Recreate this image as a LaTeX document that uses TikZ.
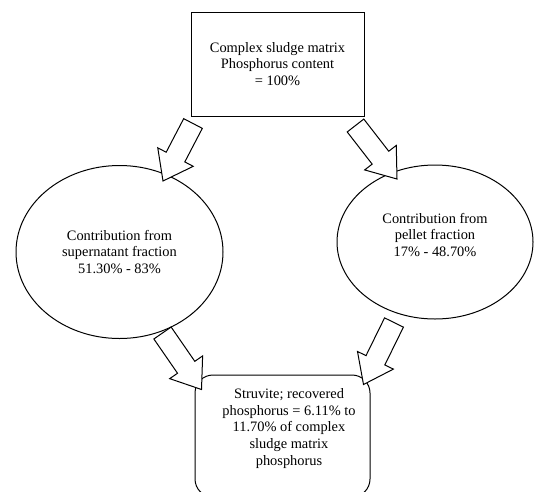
\documentclass[tikz,border=0pt]{standalone}
\usepackage{fontspec}
\setmainfont{Liberation Serif}
\usetikzlibrary{calc,shapes.geometric}

% block arrow from tail #1 to tip #2
\newcommand\blockarrow[2]{%
 \coordinate (h) at ($(#2)!27pt!(#1)$);
 \draw[fill=white,line join=miter] ($(#1)!10.5pt!90:(#2)$) -- ($(h)!10.5pt!90:(#2)$) -- ($(h)!20pt!90:(#2)$) -- (#2)
  -- ($(h)!20pt!-90:(#2)$) -- ($(h)!10.5pt!-90:(#2)$) -- ($(#1)!10.5pt!-90:(#2)$) -- cycle;
}

\begin{document}
\begin{tikzpicture}[x=1pt,y=-1pt,line width=1pt,font=\fontsize{14.4}{16.6}\selectfont,
  txt/.style={align=center,inner sep=0pt},
  blob/.style={draw,ellipse,inner sep=0pt,align=center}]
 \useasboundingbox (0,0) rectangle (535,491);
 \node[draw,txt,minimum width=173pt,minimum height=104pt] (matrix) at (277.5,64)
  {Complex sludge matrix\\Phosphorus content\\ = 100\%};
 \node[blob,minimum width=207pt,minimum height=173pt] (super) at (119.5,252)
  {Contribution from\\supernatant fraction\\51.30\% - 83\%};
 \node[blob,minimum width=196pt,minimum height=154pt] (pellet) at (435,242) {};
 \node[txt] (pellettext) at (435,235) {Contribution from\\pellet fraction\\17\% - 48.70\%};
 \node[draw,rounded corners=18pt,minimum width=175pt,minimum height=122pt] (struvite) at (282.5,436) {};
 \node[txt] (struvitetext) at ([shift={(6.5,-7.5)}]struvite.center)
  {Struvite; recovered\\phosphorus = 6.11\% to\\11.70\% of complex\\sludge matrix\\phosphorus};

 \coordinate (a1) at ([shift={(2.5,7)}]matrix.south west);
 \coordinate (b1) at ([shift={(43.5,-71)}]super.center);
 \coordinate (a2) at ([shift={(-9,9)}]matrix.south east);
 \coordinate (b2) at ([shift={(-38,-63)}]pellet.center);
 \coordinate (a3) at ([shift={(43,81)}]super.center);
 \coordinate (b3) at ([shift={(7,15)}]struvite.north west);
 \coordinate (a4) at ([shift={(-41,80.5)}]pellet.center);
 \coordinate (b4) at ([shift={(-7,10)}]struvite.north east);
 \blockarrow{a1}{b1}
 \blockarrow{a2}{b2}
 \blockarrow{a3}{b3}
 \blockarrow{a4}{b4}
\end{tikzpicture}
\end{document}
